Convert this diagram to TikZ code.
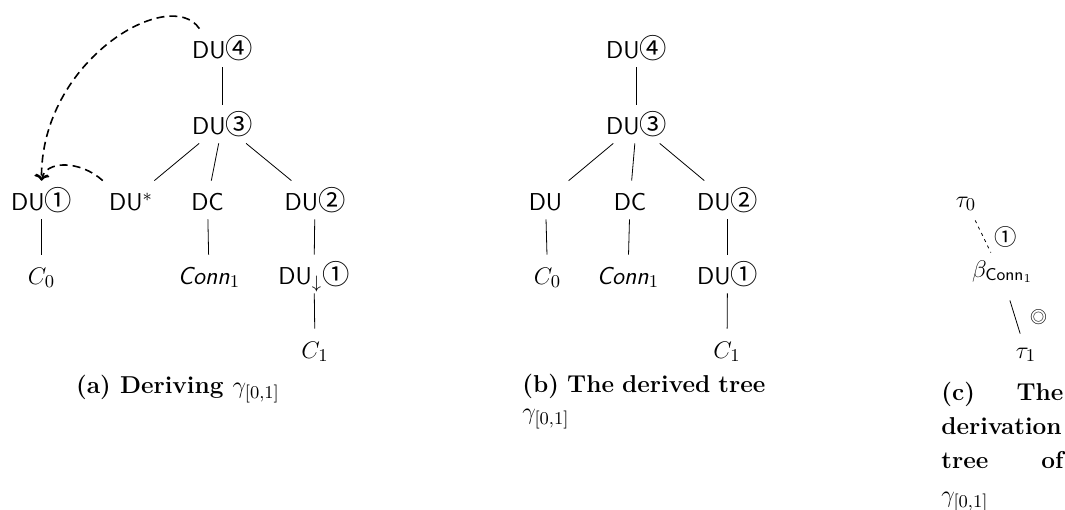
\documentclass[tikz,border=0pt]{standalone}
\usepackage{amsmath}
\usepackage{fontspec}
\newfontfamily\circfont[Scale=1.12]{Noto Sans CJK JP}
\usetikzlibrary{arrows.meta}

\newcommand{\cnum}[1]{{\circfont #1}}
\newcommand{\bigsz}{\fontsize{12.2}{14.6}\selectfont}

\tikzset{
  tn/.style={font=\bigsz\sffamily, anchor=base, inner sep=3pt, text height=11.5pt, text depth=1.5pt},
  dv/.style={font=\bigsz, anchor=base, inner sep=3pt, text height=9pt, text depth=3.5pt},
  adj/.style={thick, dash pattern=on 4pt off 2.5pt, -{To[length=3pt,width=7pt]}},
  capt/.style={font=\bigsz\bfseries, inner sep=0pt}
}

\begin{document}
\begin{tikzpicture}[x=0.5pt,y=-0.5pt]
\useasboundingbox (0,0) rectangle (1065,509);
% (a) deriving
\node[tn] (du4a) at (222.5,58) {DU\cnum{④}};
\node[tn] (du3a) at (222.5,134) {DU\cnum{③}};
\node[tn] (du1a) at (41.5,210) {DU\cnum{①}};
\node[tn] (dust) at (131,210) {DU$^*$};
\node[tn] (dca) at (207.5,210) {DC};
\node[tn] (du2a) at (315,210) {DU\cnum{②}};
\node[tn] (c0a) at (41.5,284) {$C_0$};
\node[tn] (conna) at (209,284) {\textit{Conn}$_1$};
\node[tn] (dusub) at (314,284) {DU$_{\downarrow}$\cnum{①}};
\node[tn] (c1a) at (315,358) {$C_1$};
\foreach \p/\c in {du4a/du3a,du3a/dust,du3a/dca,du3a/du2a,du1a/c0a,dca/conna,du2a/dusub,dusub/c1a}
  \draw (\p) -- (\c);
% substitution and adjunction
\draw[adj] (du4a.140) .. controls (170,-15) and (40,60) .. (du1a.north);
\draw[adj] (dust.north west) .. controls (80,160) and (45,160) .. (du1a.north);
\node[capt, anchor=base] (capa) at (178,393) {(a) Deriving $\gamma_{[0,1]}$};
% (b) derived tree
\node[tn] (du4b) at (636.5,58) {DU\cnum{④}};
\node[tn] (du3b) at (636.5,134) {DU\cnum{③}};
\node[tn] (dub) at (545.5,210) {DU};
\node[tn] (dcb) at (630,210) {DC};
\node[tn] (du2b) at (727.5,210) {DU\cnum{②}};
\node[tn] (c0b) at (547.5,284) {$C_0$};
\node[tn] (connb) at (628,284) {\textit{Conn}$_1$};
\node[tn] (du1b) at (727.5,284) {DU\cnum{①}};
\node[tn] (c1b) at (727,358) {$C_1$};
\foreach \p/\c in {du4b/du3b,du3b/dub,du3b/dcb,du3b/du2b,dub/c0b,dcb/connb,du2b/du1b,du1b/c1b}
  \draw (\p) -- (\c);
\node[capt, anchor=base west] (capb) at (522,392)
  {\parbox[t]{121.5pt}{\baselineskip=13.5pt (b) The derived tree\linebreak $\gamma_{[0,1]}$}};
% (c) derivation tree
\node[dv] (t0) at (966,207) {$\tau_0$};
\node[dv, text depth=8.5pt] (bconn) at (1002.5,277) {$\beta_{\textsf{Conn}_1}$};
\node[dv] (t1) at (1026,358) {$\tau_1$};
\draw[dash pattern=on 1.5pt off 2pt] (t0) -- node[right=2pt] {\cnum{①}} (bconn);
\draw (bconn) -- node[right=4pt] {\fontsize{7.5}{9}\selectfont\cnum{◎}} (t1);
\node[capt, anchor=base west] (capc) at (941,400)
  {\parbox[t]{61pt}{\baselineskip=17pt (c) The\linebreak derivation\linebreak tree of\linebreak $\gamma_{[0,1]}$}};
\end{tikzpicture}
\end{document}
